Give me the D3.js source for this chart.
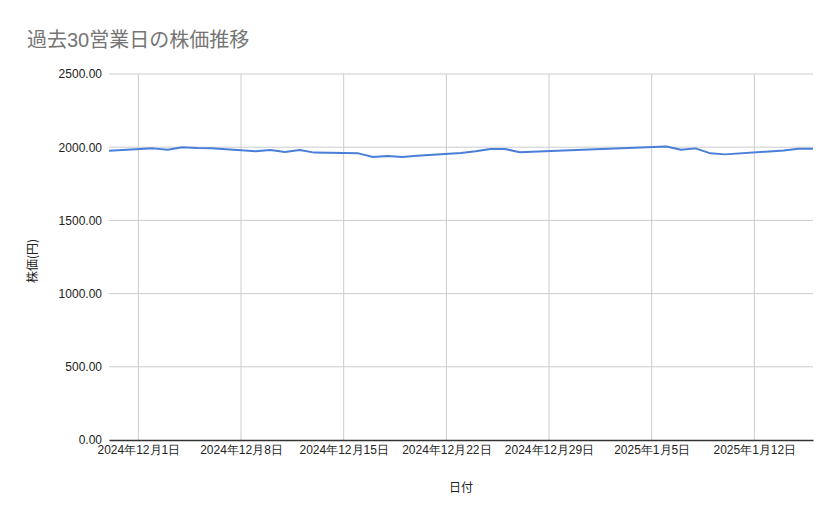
<!DOCTYPE html>
<html>
<head>
<meta charset="utf-8">
<script src="https://cdn.jsdelivr.net/npm/d3@7"></script>
<style>
  body { margin: 0; background: #fff; }
  svg { font-family: "Liberation Sans", Arial, "Noto Sans CJK JP", sans-serif; }
</style>
</head>
<body>
<svg id="chart" width="839" height="519"></svg>
<script>
// 営業日と終値
const dates = [
  "2024-11-29",
  "2024-12-02", "2024-12-03", "2024-12-04", "2024-12-05", "2024-12-06",
  "2024-12-09", "2024-12-10", "2024-12-11", "2024-12-12", "2024-12-13",
  "2024-12-16", "2024-12-17", "2024-12-18", "2024-12-19", "2024-12-20",
  "2024-12-23", "2024-12-24", "2024-12-25", "2024-12-26", "2024-12-27",
  "2024-12-30",
  "2025-01-06", "2025-01-07", "2025-01-08", "2025-01-09", "2025-01-10",
  "2025-01-14", "2025-01-15", "2025-01-16"
];
const prices = [
  1975,
  1992, 1983, 1999, 1994, 1993,
  1972, 1981, 1967, 1981, 1963,
  1958, 1933, 1940, 1933, 1941,
  1961, 1972, 1988, 1988, 1965,
  1977,
  2005, 1983, 1992, 1958, 1951,
  1978, 1990, 1990
];
const yTicks = [0, 500, 1000, 1500, 2000, 2500];
const xTickDates = ["2024-12-01", "2024-12-08", "2024-12-15", "2024-12-22", "2024-12-29", "2025-01-05", "2025-01-12"];

const parse = d3.timeParse("%Y-%m-%d");
const data = dates.map((d, i) => ({ date: parse(d), price: prices[i] }));

const margin = { left: 109, right: 26, top: 74, bottom: 79 };
const width = 839, height = 519;
const svg = d3.select("#chart");

const x = d3.scaleTime()
  .domain(d3.extent(data, d => d.date))
  .range([margin.left, width - margin.right]);
const y = d3.scaleLinear()
  .domain([0, 2500])
  .range([height - margin.bottom, margin.top]);

// grid
svg.append("g")
  .selectAll("line")
  .data(yTicks.filter(d => d > 0))
  .join("line")
  .attr("x1", margin.left).attr("x2", width - margin.right)
  .attr("y1", d => y(d)).attr("y2", d => y(d))
  .attr("stroke", "#cccccc");

svg.append("g")
  .selectAll("line")
  .data(xTickDates.map(parse))
  .join("line")
  .attr("x1", d => x(d)).attr("x2", d => x(d))
  .attr("y1", y(2500)).attr("y2", y(0))
  .attr("stroke", "#cccccc");

// y axis labels
const fmtTick = d3.format(".2f");
svg.append("g")
  .attr("transform", `translate(${margin.left},0)`)
  .call(d3.axisLeft(y).tickValues(yTicks).tickFormat(fmtTick).tickSize(0).tickPadding(7))
  .call(g => g.select(".domain").remove())
  .call(g => g.selectAll("text").attr("font-size", 12).attr("fill", "#222").attr("font-family", null));

// x axis
const fmtDate = d => `${d.getFullYear()}年${d.getMonth() + 1}月${d.getDate()}日`;
svg.append("g")
  .attr("transform", `translate(0,${y(0)})`)
  .call(d3.axisBottom(x).tickValues(xTickDates.map(parse)).tickFormat(fmtDate).tickSize(0).tickPadding(5))
  .call(g => g.select(".domain").attr("stroke", "#333").attr("stroke-width", 1.3))
  .call(g => g.selectAll("text").attr("font-size", 12).attr("fill", "#222").attr("font-family", null));

// line
const line = d3.line()
  .x(d => x(d.date))
  .y(d => y(d.price));

svg.append("path")
  .datum(data)
  .attr("fill", "none")
  .attr("stroke", "#4a7fd9")
  .attr("stroke-width", 2)
  .attr("stroke-linejoin", "round")
  .attr("d", line);

// title and axis titles
svg.append("text")
  .attr("x", 27).attr("y", 47)
  .attr("font-size", 20)
  .attr("fill", "#757575")
  .text("過去30営業日の株価推移");

svg.append("text")
  .attr("x", (margin.left + width - margin.right) / 2).attr("y", 492)
  .attr("text-anchor", "middle")
  .attr("font-size", 12)
  .attr("fill", "#222")
  .text("日付");

svg.append("text")
  .attr("transform", `translate(37,261) rotate(-90)`)
  .attr("text-anchor", "middle")
  .attr("font-size", 12)
  .attr("font-family", "'Noto Sans CJK JP', sans-serif")
  .attr("fill", "#222")
  .text("株価(円)");
</script>
</body>
</html>
